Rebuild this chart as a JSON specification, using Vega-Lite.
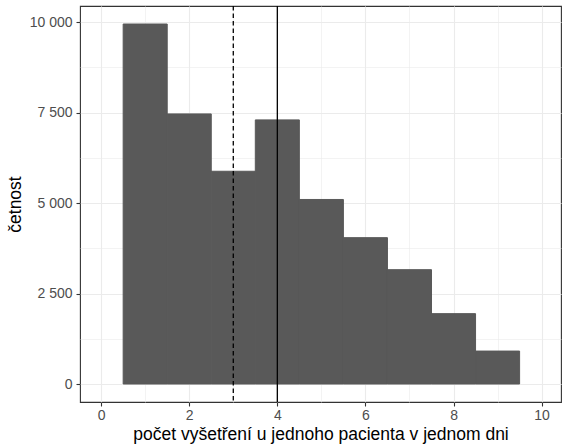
{
  "$schema": "https://vega.github.io/schema/vega-lite/v6.json",
  "width": 481,
  "height": 396,
  "autosize": {"type": "none"},
  "padding": {"left": 80, "top": 6, "right": 1, "bottom": 44},
  "background": "white",
  "config": {
    "view": {"stroke": "#333333", "strokeWidth": 1.1},
    "font": "Liberation Sans",
    "axis": {
      "domain": false,
      "gridColor": "#EBEBEB",
      "tickColor": "#333333",
      "tickSize": 4,
      "tickWidth": 1.1,
      "labelColor": "#4D4D4D",
      "labelFont": "Liberation Sans",
      "labelFontSize": 14,
      "titleFont": "Liberation Sans",
      "titleFontSize": 17.5,
      "titleFontWeight": "normal",
      "titleColor": "black"
    }
  },
  "datasets": {
    "bins": [
      {"start": 0.5, "end": 1.5, "count": 9950},
      {"start": 1.5, "end": 2.5, "count": 7465},
      {"start": 2.5, "end": 3.5, "count": 5880},
      {"start": 3.5, "end": 4.5, "count": 7300},
      {"start": 4.5, "end": 5.5, "count": 5100},
      {"start": 5.5, "end": 6.5, "count": 4045},
      {"start": 6.5, "end": 7.5, "count": 3160},
      {"start": 7.5, "end": 8.5, "count": 1945},
      {"start": 8.5, "end": 9.5, "count": 910}
    ],
    "lines": [
      {"value": 3, "stat": "median"},
      {"value": 4, "stat": "mean"}
    ]
  },
  "layer": [
    {
      "data": {"name": "bins"},
      "mark": {"type": "point", "opacity": 0},
      "encoding": {
        "x": {"field": "start", "type": "quantitative", "scale": {"domain": [-0.48, 10.44], "nice": false, "zero": false},
          "axis": {"orient": "bottom", "values": [1, 3, 5, 7, 9], "grid": true, "gridWidth": 0.6, "labels": false, "ticks": false, "title": null}},
        "y": {"field": "count", "type": "quantitative", "scale": {"domain": [-497.5, 10447.5], "nice": false, "zero": false},
          "axis": {"orient": "left", "values": [1250, 3750, 6250, 8750], "grid": true, "gridWidth": 0.6, "labels": false, "ticks": false, "title": null}}
      }
    },
    {
      "layer": [
        {
          "data": {"name": "bins"},
          "mark": {"type": "rect", "color": "#595959", "stroke": "#595959", "strokeWidth": 1},
          "encoding": {
            "x": {"field": "start", "type": "quantitative",
              "axis": {"orient": "bottom", "values": [0, 2, 4, 6, 8, 10], "grid": true, "gridWidth": 1.1, "labelPadding": 2,
                "title": "počet vyšetření u jednoho pacienta v jednom dni", "titlePadding": 3}},
            "x2": {"field": "end"},
            "y": {"field": "count", "type": "quantitative",
              "axis": {"orient": "left", "values": [0, 2500, 5000, 7500, 10000], "grid": true, "gridWidth": 1.1, "labelPadding": 4,
                "labelExpr": "replace(format(datum.value, ','), regexp(',', 'g'), ' ')",
                "title": "četnost", "titlePadding": 5}},
            "y2": {"datum": 0}
          }
        },
        {
          "data": {"name": "lines"},
          "transform": [{"filter": "datum.stat == 'median'"}],
          "mark": {"type": "rule", "color": "black", "strokeWidth": 1.3, "strokeDash": [4.5, 3]},
          "encoding": {
            "x": {"field": "value", "type": "quantitative"}
          }
        },
        {
          "data": {"name": "lines"},
          "transform": [{"filter": "datum.stat == 'mean'"}],
          "mark": {"type": "rule", "color": "black", "strokeWidth": 1.3},
          "encoding": {
            "x": {"field": "value", "type": "quantitative"}
          }
        }
      ]
    }
  ],
  "resolve": {"axis": {"x": "independent", "y": "independent"}}
}
